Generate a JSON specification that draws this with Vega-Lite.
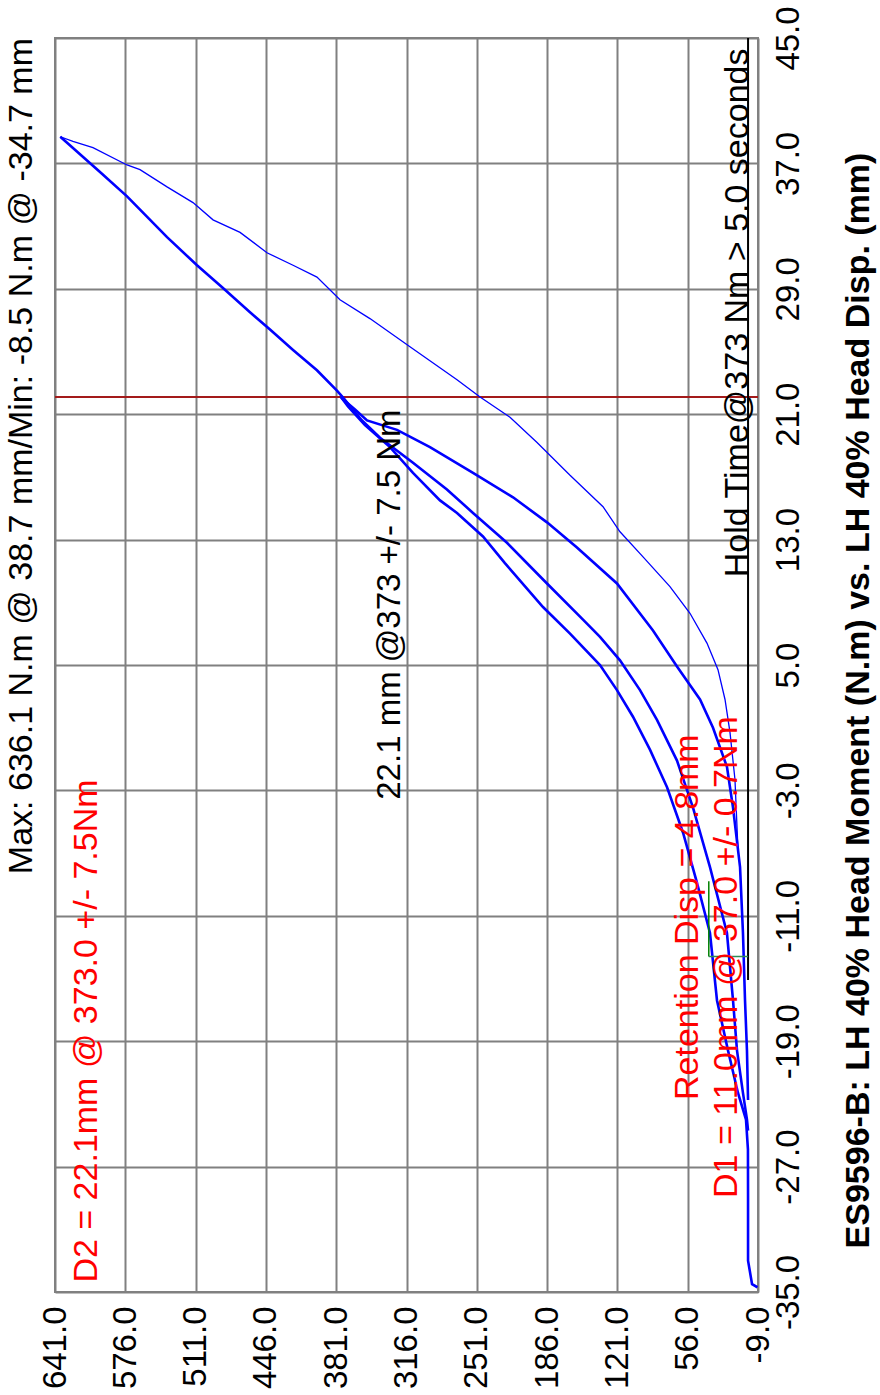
{
  "$schema": "https://vega.github.io/schema/vega-lite/v6.json",
  "width": 703,
  "height": 1254,
  "autosize": {"type": "none"},
  "padding": {"left": 55, "top": 38, "right": 122, "bottom": 103},
  "background": "white",
  "config": {
    "font": "Liberation Sans",
    "view": {"stroke": "#808080", "strokeWidth": 2}
  },
  "title": {
    "text": "Max: 636.1 N.m @ 38.7 mm/Min: -8.5 N.m @ -34.7 mm",
    "orient": "left",
    "anchor": "end",
    "frame": "group",
    "fontSize": 34,
    "fontWeight": "normal",
    "color": "black",
    "offset": 0
  },
  "datasets": {
    "curves": [
      {"s": "load1", "i": 0, "moment": -8.5, "disp": -34.7},
      {"s": "load1", "i": 1, "moment": -3.5, "disp": -34.5},
      {"s": "load1", "i": 2, "moment": 0.2, "disp": -33.0},
      {"s": "load1", "i": 3, "moment": 0.2, "disp": -29.1},
      {"s": "load1", "i": 4, "moment": 0.3, "disp": -25.9},
      {"s": "load1", "i": 5, "moment": 2.1, "disp": -24.0},
      {"s": "load1", "i": 6, "moment": 9.5, "disp": -22.3},
      {"s": "load1", "i": 7, "moment": 18.7, "disp": -19.6},
      {"s": "load1", "i": 8, "moment": 28.9, "disp": -16.4},
      {"s": "load1", "i": 9, "moment": 35.4, "disp": -12.1},
      {"s": "load1", "i": 10, "moment": 47.4, "disp": -8.9},
      {"s": "load1", "i": 11, "moment": 60.3, "disp": -5.7},
      {"s": "load1", "i": 12, "moment": 75.1, "disp": -2.8},
      {"s": "load1", "i": 13, "moment": 90.9, "disp": -0.4},
      {"s": "load1", "i": 14, "moment": 106.6, "disp": 1.7},
      {"s": "load1", "i": 15, "moment": 121.4, "disp": 3.4},
      {"s": "load1", "i": 16, "moment": 137.1, "disp": 5.0},
      {"s": "load1", "i": 17, "moment": 164.8, "disp": 7.0},
      {"s": "load1", "i": 18, "moment": 189.8, "disp": 8.7},
      {"s": "load1", "i": 19, "moment": 225.0, "disp": 11.5},
      {"s": "load1", "i": 20, "moment": 245.3, "disp": 13.2},
      {"s": "load1", "i": 21, "moment": 269.3, "disp": 14.7},
      {"s": "load1", "i": 22, "moment": 285.0, "disp": 15.5},
      {"s": "load1", "i": 23, "moment": 310.0, "disp": 17.25},
      {"s": "load1", "i": 24, "moment": 331.3, "disp": 18.9},
      {"s": "load1", "i": 25, "moment": 354.4, "disp": 20.3},
      {"s": "load1", "i": 26, "moment": 370.1, "disp": 21.5},
      {"s": "load1", "i": 27, "moment": 375.6, "disp": 22.0},
      {"s": "load1", "i": 28, "moment": 377.0, "disp": 22.1},
      {"s": "unload1", "i": 0, "moment": 375.6, "disp": 22.0},
      {"s": "unload1", "i": 1, "moment": 363.6, "disp": 21.3},
      {"s": "unload1", "i": 2, "moment": 352.5, "disp": 20.6},
      {"s": "unload1", "i": 3, "moment": 324.8, "disp": 20.0},
      {"s": "unload1", "i": 4, "moment": 294.3, "disp": 18.9},
      {"s": "unload1", "i": 5, "moment": 254.5, "disp": 17.25},
      {"s": "unload1", "i": 6, "moment": 217.5, "disp": 15.7},
      {"s": "unload1", "i": 7, "moment": 186.1, "disp": 14.1},
      {"s": "unload1", "i": 8, "moment": 158.4, "disp": 12.5},
      {"s": "unload1", "i": 9, "moment": 121.4, "disp": 10.2},
      {"s": "unload1", "i": 10, "moment": 88.1, "disp": 7.2},
      {"s": "unload1", "i": 11, "moment": 65.9, "disp": 4.9},
      {"s": "unload1", "i": 12, "moment": 44.6, "disp": 2.8},
      {"s": "unload1", "i": 13, "moment": 32.6, "disp": 1.0},
      {"s": "unload1", "i": 14, "moment": 19.7, "disp": -1.5},
      {"s": "unload1", "i": 15, "moment": 14.1, "disp": -4.1},
      {"s": "unload1", "i": 16, "moment": 7.6, "disp": -7.9},
      {"s": "unload1", "i": 17, "moment": 4.9, "disp": -12.1},
      {"s": "unload1", "i": 18, "moment": 3.0, "disp": -16.4},
      {"s": "unload1", "i": 19, "moment": 1.2, "disp": -19.6},
      {"s": "unload1", "i": 20, "moment": 0.2, "disp": -22.75},
      {"s": "reload", "i": 0, "moment": 0.2, "disp": -24.7},
      {"s": "reload", "i": 1, "moment": 1.2, "disp": -24.0},
      {"s": "reload", "i": 2, "moment": 4.9, "disp": -22.3},
      {"s": "reload", "i": 3, "moment": 10.4, "disp": -19.6},
      {"s": "reload", "i": 4, "moment": 14.1, "disp": -16.4},
      {"s": "reload", "i": 5, "moment": 19.7, "disp": -12.1},
      {"s": "reload", "i": 6, "moment": 35.4, "disp": -7.9},
      {"s": "reload", "i": 7, "moment": 51.1, "disp": -4.1},
      {"s": "reload", "i": 8, "moment": 65.9, "disp": -1.1},
      {"s": "reload", "i": 9, "moment": 84.4, "disp": 1.5},
      {"s": "reload", "i": 10, "moment": 100.1, "disp": 3.4},
      {"s": "reload", "i": 11, "moment": 118.6, "disp": 5.3},
      {"s": "reload", "i": 12, "moment": 137.1, "disp": 6.8},
      {"s": "reload", "i": 13, "moment": 152.8, "disp": 7.9},
      {"s": "reload", "i": 14, "moment": 186.1, "disp": 10.2},
      {"s": "reload", "i": 15, "moment": 223.1, "disp": 12.8},
      {"s": "reload", "i": 16, "moment": 254.5, "disp": 14.7},
      {"s": "reload", "i": 17, "moment": 278.6, "disp": 16.2},
      {"s": "reload", "i": 18, "moment": 310.0, "disp": 17.9},
      {"s": "reload", "i": 19, "moment": 340.5, "disp": 19.5},
      {"s": "reload", "i": 20, "moment": 357.1, "disp": 20.6},
      {"s": "reload", "i": 21, "moment": 368.2, "disp": 21.5},
      {"s": "reload", "i": 22, "moment": 373.8, "disp": 22.0},
      {"s": "reload", "i": 23, "moment": 380.3, "disp": 22.5},
      {"s": "reload", "i": 24, "moment": 398.8, "disp": 23.8},
      {"s": "reload", "i": 25, "moment": 420.9, "disp": 25.1},
      {"s": "reload", "i": 26, "moment": 442.2, "disp": 26.4},
      {"s": "reload", "i": 27, "moment": 460.7, "disp": 27.5},
      {"s": "reload", "i": 28, "moment": 485.7, "disp": 29.05},
      {"s": "reload", "i": 29, "moment": 509.7, "disp": 30.5},
      {"s": "reload", "i": 30, "moment": 537.4, "disp": 32.3},
      {"s": "reload", "i": 31, "moment": 574.4, "disp": 34.9},
      {"s": "reload", "i": 32, "moment": 599.4, "disp": 36.45},
      {"s": "reload", "i": 33, "moment": 636.1, "disp": 38.7},
      {"s": "unload2", "i": 0, "moment": 636.1, "disp": 38.7},
      {"s": "unload2", "i": 1, "moment": 624.4, "disp": 38.4},
      {"s": "unload2", "i": 2, "moment": 605.9, "disp": 38.0},
      {"s": "unload2", "i": 3, "moment": 574.4, "disp": 36.9},
      {"s": "unload2", "i": 4, "moment": 562.4, "disp": 36.6},
      {"s": "unload2", "i": 5, "moment": 537.4, "disp": 35.5},
      {"s": "unload2", "i": 6, "moment": 513.4, "disp": 34.5},
      {"s": "unload2", "i": 7, "moment": 494.9, "disp": 33.4},
      {"s": "unload2", "i": 8, "moment": 469.9, "disp": 32.6},
      {"s": "unload2", "i": 9, "moment": 445.0, "disp": 31.3},
      {"s": "unload2", "i": 10, "moment": 420.9, "disp": 30.5},
      {"s": "unload2", "i": 11, "moment": 398.8, "disp": 29.75},
      {"s": "unload2", "i": 12, "moment": 377.5, "disp": 28.3},
      {"s": "unload2", "i": 13, "moment": 349.8, "disp": 27.1},
      {"s": "unload2", "i": 14, "moment": 312.8, "disp": 25.3},
      {"s": "unload2", "i": 15, "moment": 269.3, "disp": 23.2},
      {"s": "unload2", "i": 16, "moment": 248.0, "disp": 22.1},
      {"s": "unload2", "i": 17, "moment": 220.3, "disp": 20.8},
      {"s": "unload2", "i": 18, "moment": 195.3, "disp": 19.2},
      {"s": "unload2", "i": 19, "moment": 164.8, "disp": 17.1},
      {"s": "unload2", "i": 20, "moment": 134.3, "disp": 15.1},
      {"s": "unload2", "i": 21, "moment": 118.6, "disp": 13.5},
      {"s": "unload2", "i": 22, "moment": 97.3, "disp": 11.9},
      {"s": "unload2", "i": 23, "moment": 72.4, "disp": 10.0},
      {"s": "unload2", "i": 24, "moment": 53.9, "disp": 8.3},
      {"s": "unload2", "i": 25, "moment": 38.2, "disp": 6.4},
      {"s": "unload2", "i": 26, "moment": 28.0, "disp": 4.7},
      {"s": "unload2", "i": 27, "moment": 21.5, "disp": 2.8},
      {"s": "unload2", "i": 28, "moment": 16.9, "disp": 0.7},
      {"s": "unload2", "i": 29, "moment": 12.3, "disp": -2.3},
      {"s": "unload2", "i": 30, "moment": 9.5, "disp": -6.8}
    ],
    "refs": [
      {"ref": "d2line", "moment": 641, "moment2": -9, "disp": 22.1, "disp2": 22.1},
      {"ref": "zero", "moment": 0.2, "moment2": 0.2, "disp": 45, "disp2": -15.1},
      {"ref": "retention", "moment": 36.5, "moment2": 36.5, "disp": -13.6, "disp2": -8.8},
      {"ref": "retbase", "moment": 36.5, "moment2": 0.2, "disp": -13.6, "disp2": -13.6}
    ],
    "notes": [
      {"note": "d2", "moment": 602.2, "disp": -34.4, "label": "D2 = 22.1mm @ 373.0 +/- 7.5Nm"},
      {"note": "ret", "moment": 46.5, "disp": -22.75, "label": "Retention Disp = 4.8mm"},
      {"note": "d1", "moment": 10.4, "disp": -29.0, "label": "D1 = 11.0mm @ 37.0 +/- 0.7Nm"},
      {"note": "hold", "moment": 0.2, "disp": 10.6, "label": "Hold Time@373 Nm > 5.0 seconds"},
      {"note": "target", "moment": 322, "disp": 21.3, "label": "22.1 mm @373 +/- 7.5 Nm"}
    ]
  },
  "encoding": {
    "x": {
      "field": "moment",
      "type": "quantitative",
      "scale": {"domain": [-9, 641], "reverse": true, "nice": false, "zero": false},
      "axis": {
        "orient": "bottom",
        "values": [641, 576, 511, 446, 381, 316, 251, 186, 121, 56, -9],
        "labelExpr": "replace(format(datum.value, '.1f'), '\u2212', '-')",
        "labelAngle": 270,
        "labelFontSize": 33,
        "labelColor": "black",
        "labelPadding": 14,
        "labelOverlap": false,
        "labelFlush": false,
        "labelBound": false,
        "ticks": false,
        "domain": false,
        "grid": true,
        "gridColor": "#808080",
        "gridWidth": 2,
        "gridOpacity": 1,
        "title": null
      }
    },
    "y": {
      "field": "disp",
      "type": "quantitative",
      "scale": {"domain": [-35, 45], "nice": false, "zero": false},
      "axis": {
        "orient": "right",
        "values": [45, 37, 29, 21, 13, 5, -3, -11, -19, -27, -35],
        "labelExpr": "replace(format(datum.value, '.1f'), '\u2212', '-')",
        "labelAngle": 270,
        "labelAlign": "center",
        "labelBaseline": "top",
        "labelFontSize": 33,
        "labelColor": "black",
        "labelPadding": 14,
        "labelOverlap": false,
        "labelFlush": false,
        "labelBound": false,
        "ticks": false,
        "domain": false,
        "grid": true,
        "gridColor": "#808080",
        "gridWidth": 2,
        "gridOpacity": 1,
        "title": "ES9596-B: LH 40% Head Moment (N.m) vs. LH 40%  Head Disp. (mm)",
        "titleFontSize": 34,
        "titleFontWeight": "bold",
        "titleColor": "black",
        "titleAngle": 270,
        "titleAlign": "center",
        "titleBaseline": "alphabetic",
        "titleX": 110,
        "titleY": 662
      }
    }
  },
  "layer": [
    {
      "data": {"name": "refs"},
      "transform": [{"filter": "datum.ref === 'd2line'"}],
      "mark": {"type": "rule", "color": "#a31a1a", "strokeWidth": 2},
      "encoding": {"x2": {"field": "moment2"}, "y2": {"field": "disp2"}}
    },
    {
      "data": {"name": "curves"},
      "transform": [{"filter": "datum.s !== 'unload2'"}],
      "mark": {"type": "line", "color": "#0000ff", "strokeWidth": 2.6, "clip": true},
      "encoding": {
        "detail": {"field": "s", "type": "nominal"},
        "order": {"field": "i", "type": "quantitative"}
      }
    },
    {
      "data": {"name": "curves"},
      "transform": [{"filter": "datum.s === 'unload2'"}],
      "mark": {"type": "line", "color": "#0000ff", "strokeWidth": 1.3, "clip": true},
      "encoding": {
        "detail": {"field": "s", "type": "nominal"},
        "order": {"field": "i", "type": "quantitative"}
      }
    },
    {
      "data": {"name": "refs"},
      "transform": [{"filter": "datum.ref === 'zero'"}],
      "mark": {"type": "rule", "color": "black", "strokeWidth": 2},
      "encoding": {"x2": {"field": "moment2"}, "y2": {"field": "disp2"}}
    },
    {
      "data": {"name": "refs"},
      "transform": [{"filter": "datum.ref === 'retention'"}],
      "mark": {"type": "rule", "color": "#008000", "strokeWidth": 1.5},
      "encoding": {"x2": {"field": "moment2"}, "y2": {"field": "disp2"}}
    },
    {
      "data": {"name": "refs"},
      "transform": [{"filter": "datum.ref === 'retbase'"}],
      "mark": {"type": "rule", "color": "#2e8b57", "strokeWidth": 1.5},
      "encoding": {"x2": {"field": "moment2"}, "y2": {"field": "disp2"}}
    },
    {
      "data": {"name": "notes"},
      "transform": [{"filter": "datum.note === 'd2' || datum.note === 'ret' || datum.note === 'd1'"}],
      "mark": {"type": "text", "angle": 270, "align": "left", "baseline": "alphabetic", "fontSize": 34, "color": "#ff0000"},
      "encoding": {"text": {"field": "label"}}
    },
    {
      "data": {"name": "notes"},
      "transform": [{"filter": "datum.note === 'hold'"}],
      "mark": {"type": "text", "angle": 270, "align": "left", "baseline": "alphabetic", "fontSize": 34, "color": "black"},
      "encoding": {"text": {"field": "label"}}
    },
    {
      "data": {"name": "notes"},
      "transform": [{"filter": "datum.note === 'target'"}],
      "mark": {"type": "text", "angle": 270, "align": "right", "baseline": "alphabetic", "fontSize": 33, "color": "black"},
      "encoding": {"text": {"field": "label"}}
    }
  ]
}
